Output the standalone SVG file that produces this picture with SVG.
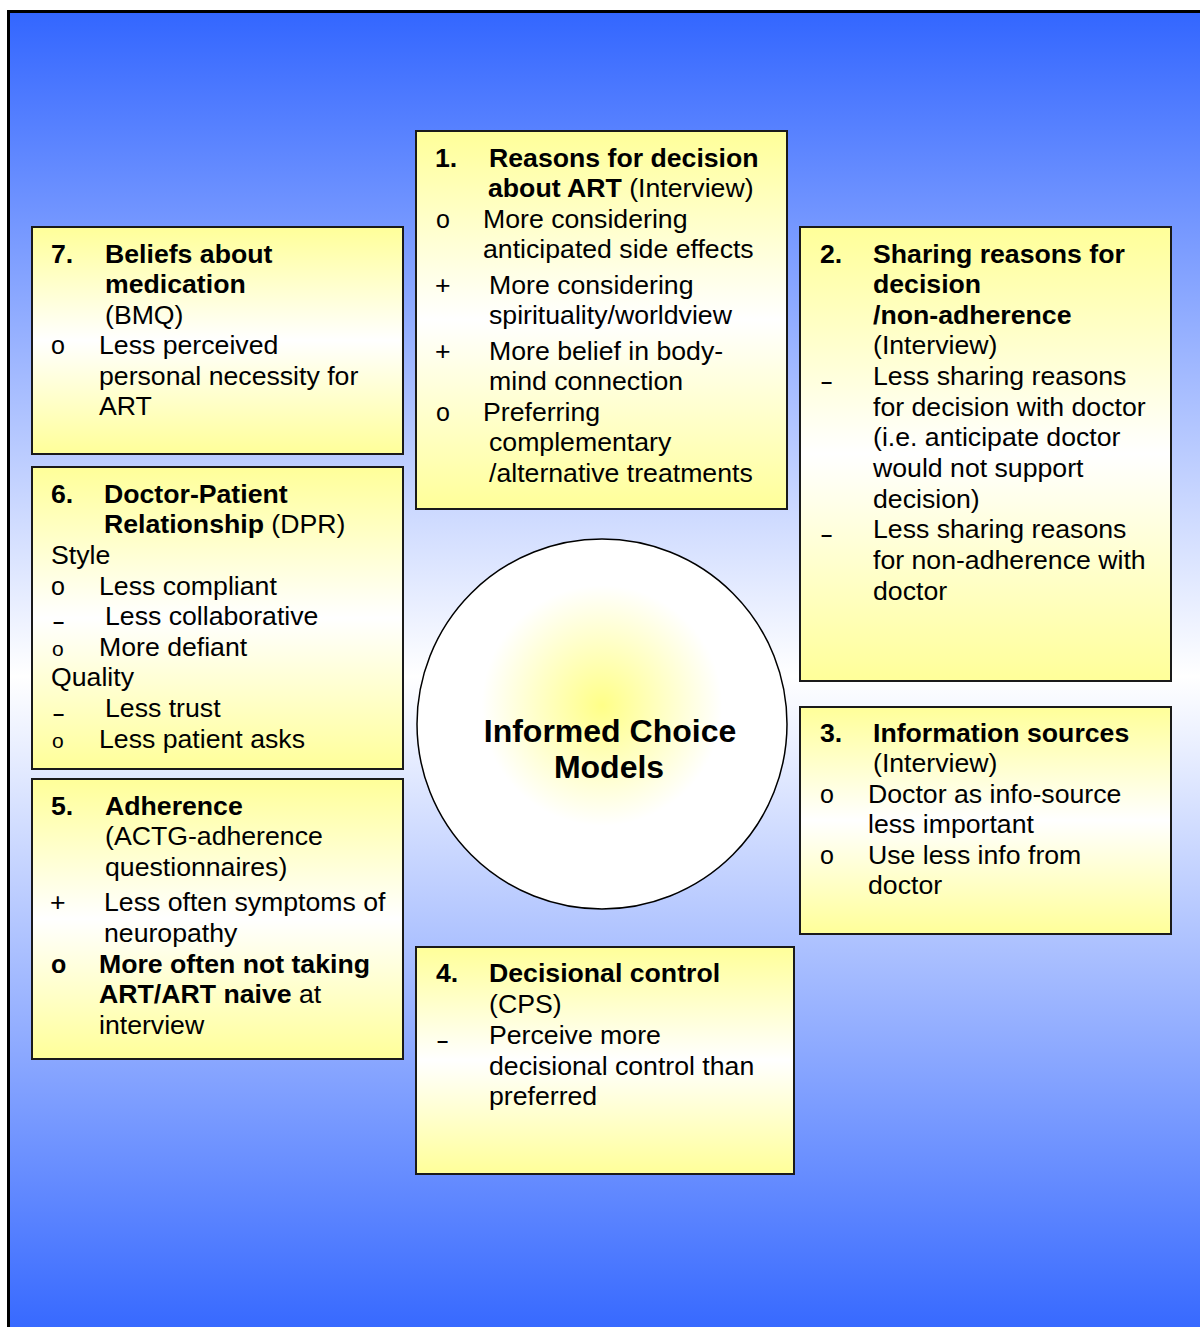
<svg xmlns="http://www.w3.org/2000/svg" width="1200" height="1327" viewBox="0 0 1200 1327">
<defs>
<linearGradient id="bg" x1="0" y1="0" x2="0" y2="1">
<stop offset="0" stop-color="#3366ff"/>
<stop offset="0.5" stop-color="#ffffff"/>
<stop offset="1" stop-color="#3366ff"/>
</linearGradient>
<linearGradient id="box" x1="0" y1="0" x2="0" y2="1">
<stop offset="0" stop-color="#ffff99"/>
<stop offset="0.5" stop-color="#ffffff"/>
<stop offset="1" stop-color="#ffff99"/>
</linearGradient>
<radialGradient id="circ" cx="0.5" cy="0.45" r="0.5">
<stop offset="0" stop-color="#ffff88"/>
<stop offset="0.65" stop-color="#ffffff"/>
<stop offset="1" stop-color="#ffffff"/>
</radialGradient>
</defs>
<style>
text{font-family:"Liberation Sans",Arial,sans-serif;font-size:26.67px;fill:#000}
.b{font-weight:bold}
.box{fill:url(#box);stroke:#1a1a1a;stroke-width:2}
.dash{font-size:20px;font-weight:bold}
.sm{font-size:25px}
.xs{font-size:21px}
.center{font-size:32px;font-weight:bold;text-anchor:middle}
</style>
<rect x="8.5" y="11.5" width="1200" height="1330" fill="url(#bg)" stroke="#000" stroke-width="3"/>
<g id="connectors"/>
<g id="node7">
<rect class="box" x="32" y="227" width="371" height="227"/>
<text class="b" x="51" y="263">7.</text>
<text class="b" x="105" y="263">Beliefs about</text>
<text class="b" x="105" y="293">medication</text>
<text x="105" y="324">(BMQ)</text>
<text x="51" y="354" class="sm">o</text>
<text x="99" y="354">Less perceived</text>
<text x="99" y="385">personal necessity for</text>
<text x="99" y="415">ART</text>
</g>
<g id="node1">
<rect class="box" x="416" y="131" width="371" height="378"/>
<text class="b" x="435" y="167">1.</text>
<text class="b" x="489" y="167">Reasons for decision</text>
<text x="488" y="197"><tspan class="b">about ART</tspan> (Interview)</text>
<text x="436" y="228" class="sm">o</text>
<text x="483" y="228">More considering</text>
<text x="483" y="258">anticipated side effects</text>
<text x="435" y="294">+</text>
<text x="489" y="294">More considering</text>
<text x="489" y="324">spirituality/worldview</text>
<text x="435" y="360">+</text>
<text x="489" y="360">More belief in body-</text>
<text x="489" y="390">mind connection</text>
<text x="436" y="421" class="sm">o</text>
<text x="483" y="421">Preferring</text>
<text x="489" y="451">complementary</text>
<text x="489" y="482">/alternative treatments</text>
</g>
<g id="node2">
<rect class="box" x="800" y="227" width="371" height="454"/>
<text class="b" x="820" y="263">2.</text>
<text class="b" x="873" y="263">Sharing reasons for</text>
<text class="b" x="873" y="293">decision</text>
<text class="b" x="873" y="324">/non-adherence</text>
<text x="873" y="354">(Interview)</text>
<text class="dash" x="821" y="388">–</text>
<text x="873" y="385">Less sharing reasons</text>
<text x="873" y="416">for decision with doctor</text>
<text x="873" y="446">(i.e. anticipate doctor</text>
<text x="873" y="477">would not support</text>
<text x="873" y="508">decision)</text>
<text class="dash" x="821" y="541">–</text>
<text x="873" y="538">Less sharing reasons</text>
<text x="873" y="569">for non-adherence with</text>
<text x="873" y="600">doctor</text>
</g>
<g id="node6">
<rect class="box" x="32" y="467" width="371" height="302"/>
<text class="b" x="51" y="503">6.</text>
<text class="b" x="104" y="503">Doctor-Patient</text>
<text x="104" y="533"><tspan class="b">Relationship</tspan> (DPR)</text>
<text x="51" y="564">Style</text>
<text x="51" y="595" class="sm">o</text>
<text x="99" y="595">Less compliant</text>
<text class="dash" x="53" y="628">–</text>
<text x="105" y="625">Less collaborative</text>
<text x="52" y="656" class="xs">o</text>
<text x="99" y="656">More defiant</text>
<text x="51" y="686">Quality</text>
<text class="dash" x="53" y="720">–</text>
<text x="105" y="717">Less trust</text>
<text x="52" y="748" class="xs">o</text>
<text x="99" y="748">Less patient asks</text>
</g>
<g id="node5">
<rect class="box" x="32" y="779" width="371" height="280"/>
<text class="b" x="51" y="815">5.</text>
<text class="b" x="105" y="815">Adherence</text>
<text x="105" y="845">(ACTG-adherence</text>
<text x="105" y="876">questionnaires)</text>
<text x="50" y="911">+</text>
<text x="104" y="911">Less often symptoms of</text>
<text x="104" y="942">neuropathy</text>
<text x="51" y="973" class="sm b">o</text>
<text class="b" x="99" y="973">More often not taking</text>
<text x="99" y="1003"><tspan class="b">ART/ART naive</tspan> at</text>
<text x="99" y="1034">interview</text>
</g>
<g id="node3">
<rect class="box" x="800" y="707" width="371" height="227"/>
<text class="b" x="820" y="742">3.</text>
<text class="b" x="873" y="742">Information sources</text>
<text x="873" y="772">(Interview)</text>
<text x="820" y="803" class="sm">o</text>
<text x="868" y="803">Doctor as info-source</text>
<text x="868" y="833">less important</text>
<text x="820" y="864" class="sm">o</text>
<text x="868" y="864">Use less info from</text>
<text x="868" y="894">doctor</text>
</g>
<g id="node4">
<rect class="box" x="416" y="947" width="378" height="227"/>
<text class="b" x="436" y="982">4.</text>
<text class="b" x="489" y="982">Decisional control</text>
<text x="489" y="1013">(CPS)</text>
<text class="dash" x="437" y="1047">–</text>
<text x="489" y="1044">Perceive more</text>
<text x="489" y="1075">decisional control than</text>
<text x="489" y="1105">preferred</text>
</g>
<g id="center">
<circle cx="602" cy="724" r="185" fill="url(#circ)" stroke="#000" stroke-width="1.5"/>
<text class="center" x="610" y="742">Informed Choice</text>
<text class="center" x="609" y="778">Models</text>
</g>
</svg>
